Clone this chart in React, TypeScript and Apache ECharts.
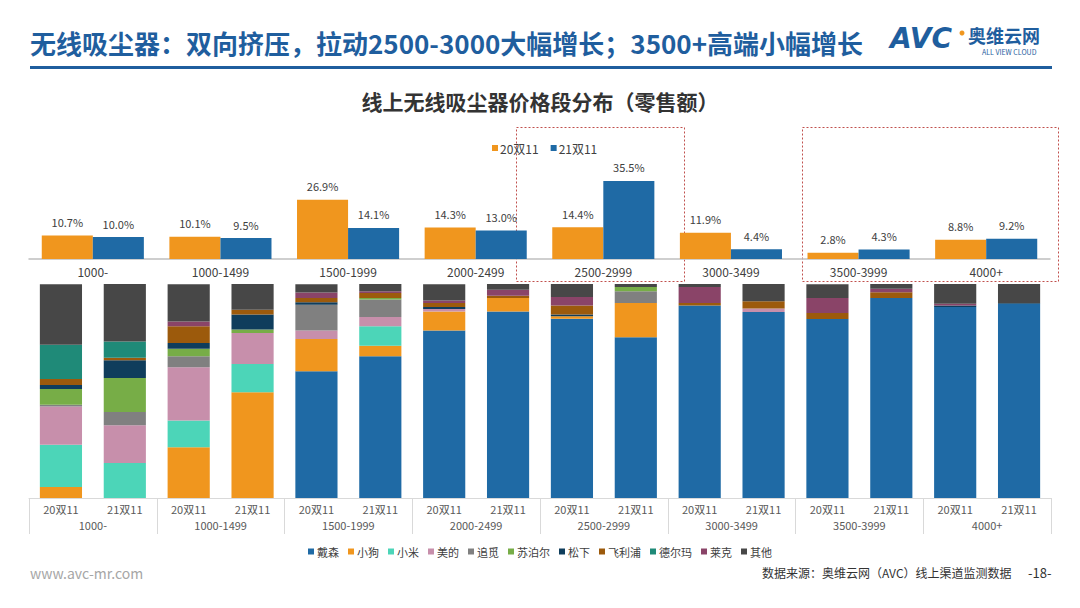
import React, { useEffect, useRef } from "react";
import * as echarts from "echarts";

const priceBands = ["1000-", "1000-1499", "1500-1999", "2000-2499", "2500-2999", "3000-3499", "3500-3999", "4000+"];
const share20 = [10.7, 10.1, 26.9, 14.3, 14.4, 11.9, 2.8, 8.8];
const share21 = [10.0, 9.5, 14.1, 13.0, 35.5, 4.4, 4.3, 9.2];

const periodLabels = ["20双11", "21双11", "20双11", "21双11", "20双11", "21双11", "20双11", "21双11",
  "20双11", "21双11", "20双11", "21双11", "20双11", "21双11", "20双11", "21双11"];

const brands = ["戴森", "小狗", "小米", "美的", "追觅", "苏泊尔", "松下", "飞利浦", "德尔玛", "莱克", "其他"];
const brandColors = ["#1F6AA5", "#F0961E", "#4CD5B8", "#C78FAB", "#808080", "#77AD47", "#0F3D5C", "#9C5A0C", "#1F8A78", "#8A4468", "#474747"];

// shares per bar (16 bars: each price band 20双11 then 21双11)
const dyson = [0, 0, 0, 0, 59.2, 66.2, 78.3, 87.2, 83.8, 75.1, 89.9, 86.9, 83.6, 93.5, 89.3, 90.8];
const xiaogou = [5.1, 0, 23.7, 49.4, 15.1, 5.0, 8.9, 6.2, 1.1, 16.0, 0, 0, 0, 0, 0, 0];
const xiaomi = [19.8, 16.4, 12.5, 13.2, 0, 9.0, 0, 0, 0, 0, 0, 0, 0, 0, 0, 0];
const midea = [17.9, 17.6, 24.9, 14.5, 4.0, 4.4, 1.1, 0, 0, 0, 0, 1.6, 0, 0, 0, 0];
const dreame = [0.8, 6.2, 5.1, 0, 12.0, 8.1, 0, 0, 0, 5.5, 0, 0, 0, 0, 0, 0];
const supor = [7.3, 15.9, 3.6, 1.6, 0, 0.8, 0, 0, 0, 2.0, 0, 0, 0, 0, 0, 0];
const panasonic = [1.9, 8.3, 2.6, 7.0, 1.2, 0, 0.9, 0, 0.8, 0, 0, 0, 0, 0, 0.6, 0.3];
const philips = [2.8, 1.1, 7.8, 2.3, 1.9, 2.3, 1.9, 1.1, 4.2, 0, 1.2, 3.4, 2.8, 2.6, 0, 0];
const deerma = [16.0, 7.6, 0, 0, 0, 0, 0, 0, 0, 0, 0, 0, 0, 0, 0, 0];
const lexy = [0, 0, 2.3, 0, 2.6, 0.8, 1.2, 2.8, 4.0, 0, 7.5, 0, 7.0, 1.7, 0.9, 0];
const others = [28.3, 26.9, 17.4, 12.0, 3.9, 3.4, 7.6, 2.7, 6.1, 1.4, 1.4, 8.1, 6.5, 2.2, 9.2, 8.9];

const brandData = [dyson, xiaogou, xiaomi, midea, dreame, supor, panasonic, philips, deerma, lexy, others];

const FONT = "'Noto Sans CJK SC', 'Noto Sans', sans-serif";

export default function App() {
  const ref = useRef<HTMLDivElement>(null);

  useEffect(() => {
    document.body.style.margin = "0";
    const chart = echarts.init(ref.current!, null, { renderer: "svg" });

    const stackSeries = brands.map((name, i) => ({
      name,
      type: "bar",
      stack: "brand",
      xAxisIndex: 1,
      yAxisIndex: 1,
      barCategoryGap: "34%",
      itemStyle: { color: brandColors[i] },
      data: brandData[i],
    }));

    const option: any = {
      animation: false,
      backgroundColor: "#ffffff",
      textStyle: { fontFamily: FONT },
      grid: [
        { left: 29, right: 30, top: 171, height: 88 },
        { left: 29, right: 29, top: 284, height: 214 },
      ],
      legend: [
        {
          data: ["20双11", "21双11"],
          top: 137,
          left: 487,
          itemWidth: 6,
          itemHeight: 6,
          itemGap: 12,
          icon: "rect",
          textStyle: { fontSize: 12, color: "#404040", fontFamily: FONT, padding: [0, 0, 0, -3] },
        },
        {
          data: brands,
          top: 541,
          left: "center",
          itemWidth: 6,
          itemHeight: 6,
          itemGap: 9,
          icon: "rect",
          textStyle: { fontSize: 11, color: "#404040", fontFamily: FONT, padding: [0, 0, 0, -2] },
        },
      ],
      xAxis: [
        {
          type: "category",
          gridIndex: 0,
          data: priceBands,
          axisLine: { lineStyle: { color: "#BFBFBF", width: 1.5 } },
          axisTick: { show: false },
          axisLabel: { fontSize: 12, color: "#404040", margin: 6 },
        },
        {
          type: "category",
          gridIndex: 1,
          data: periodLabels,
          axisLine: { lineStyle: { color: "#D9D9D9" } },
          axisTick: { show: false },
          axisLabel: { fontSize: 11, color: "#595959", margin: 5, interval: 0 },
        },
        {
          type: "category",
          gridIndex: 1,
          position: "bottom",
          data: priceBands,
          axisLine: { show: false },
          axisTick: { show: true, interval: 0, length: 36, lineStyle: { color: "#D9D9D9" } },
          axisLabel: { fontSize: 11, color: "#595959", margin: 21, interval: 0 },
        },
      ],
      yAxis: [
        { type: "value", gridIndex: 0, min: 0, max: 40, show: false },
        { type: "value", gridIndex: 1, min: 0, max: 100, show: false },
      ],
      series: [
        {
          name: "20双11",
          type: "bar",
          xAxisIndex: 0,
          yAxisIndex: 0,
          barGap: "0%",
          barCategoryGap: "20%",
          itemStyle: { color: "#F0961E" },
          label: { show: true, position: "top", formatter: "{c}%", fontSize: 11, color: "#404040", distance: 8 },
          data: share20,
        },
        {
          name: "21双11",
          type: "bar",
          xAxisIndex: 0,
          yAxisIndex: 0,
          barGap: "0%",
          barCategoryGap: "20%",
          itemStyle: { color: "#1F6AA5" },
          label: { show: true, position: "top", formatter: (p: any) => p.value.toFixed(1) + "%", fontSize: 11, color: "#404040", distance: 8 },
          data: share21,
        },
        ...stackSeries,
      ],
      graphic: [
        {
          type: "text",
          left: 30,
          top: 29,
          style: {
            text: "无线吸尘器：双向挤压，拉动2500-3000大幅增长；3500+高端小幅增长",
            fontSize: 26,
            fontWeight: "bold",
            fill: "#1F5E9E",
            fontFamily: FONT,
          },
        },
        {
          type: "rect",
          shape: { x: 30, y: 66, width: 1022, height: 3 },
          style: { fill: "#1F5E9E" },
        },
        {
          type: "text",
          left: 890,
          top: 24,
          style: { text: "AVC", fontSize: 28, fontWeight: "bold", fontStyle: "italic", fill: "#1F5E9E", fontFamily: "'DejaVu Sans', sans-serif" },
        },
        {
          type: "circle",
          shape: { cx: 962, cy: 33, r: 2.5 },
          style: { fill: "#F0961E" },
        },
        {
          type: "text",
          left: 968,
          top: 26,
          style: { text: "奥维云网", fontSize: 18, fontWeight: "bold", fill: "#1F5E9E", fontFamily: FONT },
        },
        {
          type: "text",
          left: 982,
          top: 48,
          style: { text: "ALL VIEW CLOUD", fontSize: 7, fill: "#1F5E9E", fontFamily: FONT },
        },
        {
          type: "text",
          left: "center",
          top: 90,
          style: { text: "线上无线吸尘器价格段分布（零售额）", fontSize: 21, fontWeight: "bold", fill: "#333333", fontFamily: FONT },
        },
        {
          type: "rect",
          shape: { x: 516.5, y: 127.5, width: 168, height: 154 },
          style: { fill: "none", stroke: "#C0504D", lineWidth: 1, lineDash: [2, 2] },
        },
        {
          type: "rect",
          shape: { x: 802.5, y: 127.5, width: 256, height: 154 },
          style: { fill: "none", stroke: "#C0504D", lineWidth: 1, lineDash: [2, 2] },
        },
        {
          type: "text",
          left: 30,
          top: 566,
          style: { text: "www.avc-mr.com", fontSize: 14, fill: "#A6A6A6", fontFamily: FONT },
        },
        {
          type: "text",
          left: 762,
          top: 566,
          style: { text: "数据来源：奥维云网（AVC）线上渠道监测数据", fontSize: 12, fill: "#333333", fontFamily: FONT },
        },
        {
          type: "text",
          left: 1028,
          top: 566,
          style: { text: "-18-", fontSize: 13, fill: "#333333", fontFamily: FONT },
        },
      ],
    };

    chart.setOption(option);
    return () => chart.dispose();
  }, []);

  return <div ref={ref} style={{ position: "absolute", left: 0, top: 0, width: 1080, height: 608 }} />;
}
